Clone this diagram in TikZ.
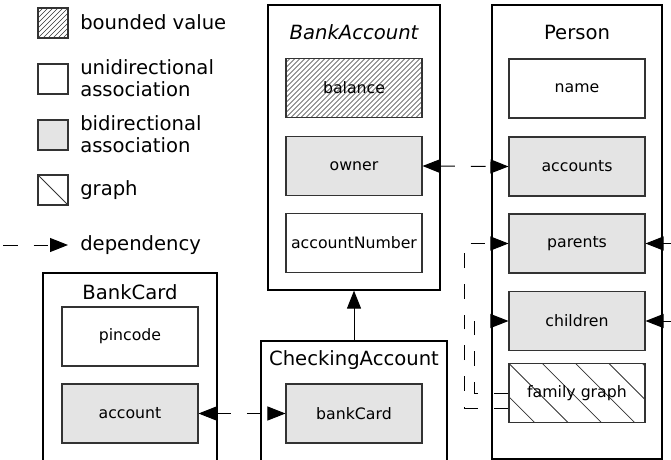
\documentclass[tikz,border=0pt]{standalone}
\usepackage{fontspec}
\setmainfont{DejaVu Sans}
\usetikzlibrary{arrows.meta}
\definecolor{boxgray}{HTML}{E4E4E4}
\definecolor{boxline}{HTML}{333333}
\begin{document}
\begin{tikzpicture}[x=0.75pt,y=-0.75pt,
  >={Triangle[length=13.5pt,width=10.5pt]},
  outer/.style={draw=black, line width=0.9pt, inner sep=0pt},
  title/.style={font=\fontsize{14.7}{17}\selectfont, inner sep=0pt},
  field/.style={draw=boxline, line width=0.8pt, minimum width=136*0.75pt, minimum height=59*0.75pt,
     inner sep=0pt, font=\fontsize{11.8}{14}\selectfont},
  bidi/.style={field, fill=boxgray},
  legsq/.style={draw=boxline, line width=0.8pt, minimum width=30*0.75pt, minimum height=30*0.75pt, inner sep=0pt},
  legtext/.style={anchor=west, align=left, inner sep=0pt, font=\fontsize{14.7}{16.5}\selectfont},
  densehatch/.style={path picture={
     \foreach \i in {-16,...,30}
       \draw[line width=0.5pt] ([xshift=\i*3.75pt]path picture bounding box.south west) -- ++(80,-80);}},
  famhatch/.style={path picture={
     \foreach \i in {-2,...,5}
       \draw[line width=0.6pt] ([xshift=\i*25pt]path picture bounding box.north west) -- ++(80,80);}},
  dep/.style={line width=0.75pt, dash pattern=on 11pt off 12pt},
]
\useasboundingbox (0,0) rectangle (671,460);
\clip (0,0) rectangle (671,460);

% legend
\node[legsq, densehatch] (L1) at (53,23) {};
\node[legtext] (L1t) at (80,22) {bounded value};
\node[legsq] (L2) at (53,79) {};
\node[legtext] (L2t) at (80,78.5) {unidirectional\\association};
\node[legsq, fill=boxgray] (L3) at (53,135) {};
\node[legtext] (L3t) at (80,134) {bidirectional\\association};
\node[legsq, path picture={\draw[line width=0.6pt] (path picture bounding box.north west) -- (path picture bounding box.south east);}] (L4) at (53,190) {};
\node[legtext] (L4t) at (80,190) {graph};
\coordinate (d0) at (3,245);
\coordinate (d1) at (68,245);
\draw[dep, ->] (d0) -- (d1);
\node[legtext] (L5t) at (80,245.5) {dependency};

% BankAccount
\node[outer, minimum width=172*0.75pt, minimum height=285*0.75pt] (BA) at (354,147.5) {};
\node[title] (BAt) at (354,32) {\itshape BankAccount};
\node[field, densehatch] (balance) at (354,88) {balance};
\node[bidi] (owner) at (354,166) {owner};
\node[field] (accnum) at (354,243) {accountNumber};

% Person
\node[outer, minimum width=170*0.75pt, minimum height=454*0.75pt] (P) at (577,232) {};
\node[title] (Pt) at (577,32) {Person};
\node[field] (name) at (577,88.5) {name};
\node[bidi] (accounts) at (577,166.5) {accounts};
\node[bidi] (parents) at (577,243.5) {parents};
\node[bidi] (children) at (577,321) {children};
\node[field, famhatch] (fg) at (577,393) {family graph};

% BankCard
\node[outer, minimum width=174*0.75pt, minimum height=207*0.75pt] (BC) at (130,376.5) {};
\node[title] (BCt) at (130,292) {BankCard};
\node[field] (pincode) at (130,336.5) {pincode};
\node[bidi] (account) at (130,413.5) {account};

% CheckingAccount
\node[outer, minimum width=186*0.75pt, minimum height=139*0.75pt] (CA) at (354,410.5) {};
\node[title] (CAt) at (354,360) {CheckingAccount};
\node[bidi] (bankCard) at (354,413.5) {bankCard};

% connectors
\draw[line width=0.75pt, ->] (CA.north) -- (BA.south);
\draw[dep, <->] (owner.east) -- (accounts.west);
\draw[dep, <->] (account.east) -- (bankCard.west);
\draw[dep, ->] ([yshift=-11.25pt]fg.west) -- ++(-44,0) |- (parents.west);
\draw[dep, ->] (fg.west) -- ++(-34,0) |- (children.west);
\coordinate (rp) at (672,243.5);
\coordinate (rc) at (672,321);
\draw[dep, ->] (rp) -- (parents.east);
\draw[dep, ->] (rc) -- (children.east);
\end{tikzpicture}
\end{document}
